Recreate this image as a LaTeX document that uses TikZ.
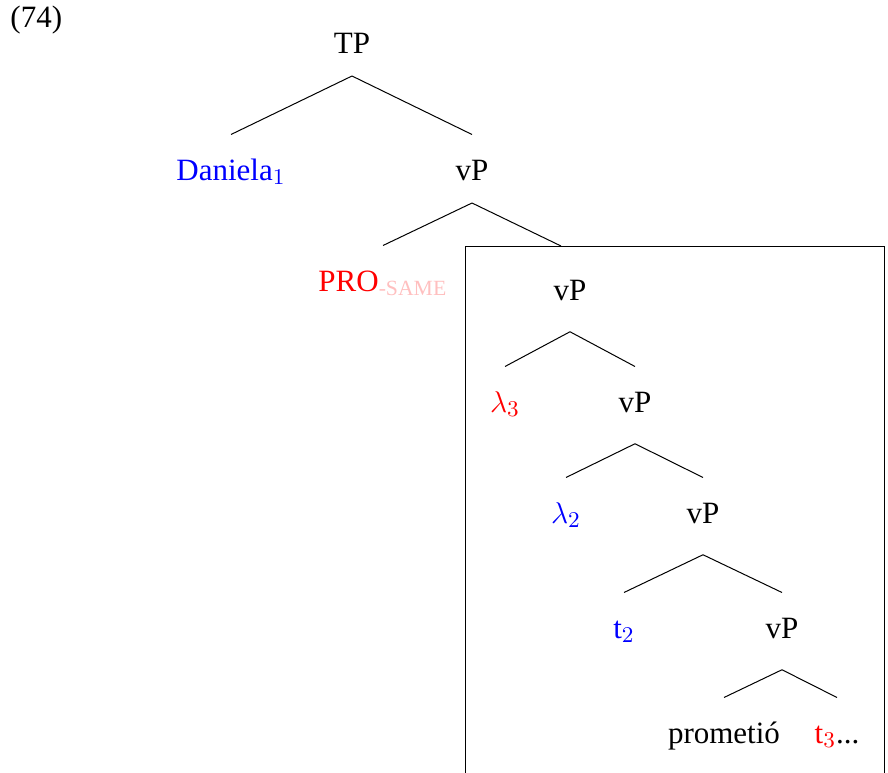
\documentclass[tikz,border=0pt,12pt]{standalone}
\usepackage{amsmath}
\usepackage{fontspec}
\setmainfont{Liberation Serif}

\begin{document}
\begin{tikzpicture}[x=0.4pt, y=-0.4pt, font=\fontsize{12.4}{15}\selectfont,
    lab/.style={anchor=base, inner sep=0pt, text height=18pt, text depth=9pt},
    sublab/.style={lab, text depth=12.5pt}]
    \useasboundingbox (0,0) rectangle (888,773);

    % Number
    \node[anchor=base west, inner sep=0pt] (num) at (10,27) {(74)};

    % Upper tree
    \node[lab] (tp) at (352,53) {TP};
    \node[lab, text=blue] (dan) at (231,180) {Daniela$_1$};
    \node[lab] (vpa) at (472,180) {vP};
    \node[lab, text=red] (pro) at (383,291) {PRO$_{\textcolor{red!25}{\text{-SAME}}}$};
    \coordinate (sub) at (561,246);

    % Box
    \draw (465,246) rectangle (884,800);

    % Boxed tree
    \node[sublab] (vpb) at (570,300) {vP};
    \node[sublab, text=red] (lama) at (505,412) {$\lambda_3$};
    \node[sublab] (vpc) at (635,412) {vP};
    \node[sublab, text=blue] (lamb) at (566,523) {$\lambda_2$};
    \node[sublab] (vpd) at (703,523) {vP};
    \node[sublab, text=blue] (tb) at (624,638) {t$_2$};
    \node[sublab] (vpe) at (782,638) {vP};
    \node[sublab] (verb) at (724,743) {prometió};
    \node[sublab] (tc) at (837,743) {\textcolor{red}{t$_3$}...};

    % Edges
    % TP | Daniela, vP
    \draw (tp.south) -- (dan.north);
    \draw (tp.south) -- (vpa.north);
    % vP | PRO, box
    \draw (vpa.south) -- (pro.north);
    \draw (vpa.south) -- (sub);

    % vP | lambda 3, vP
    \draw (vpb.south) -- (lama.north);
    \draw (vpb.south) -- (vpc.north);
    % vP | lambda 2, vP
    \draw (vpc.south) -- (lamb.north);
    \draw (vpc.south) -- (vpd.north);
    % vP | t 2, vP
    \draw (vpd.south) -- (tb.north);
    \draw (vpd.south) -- (vpe.north);
    % vP | verb, t 3
    \draw (vpe.south) -- (verb.north);
    \draw (vpe.south) -- (tc.north);

\end{tikzpicture}
\end{document}
